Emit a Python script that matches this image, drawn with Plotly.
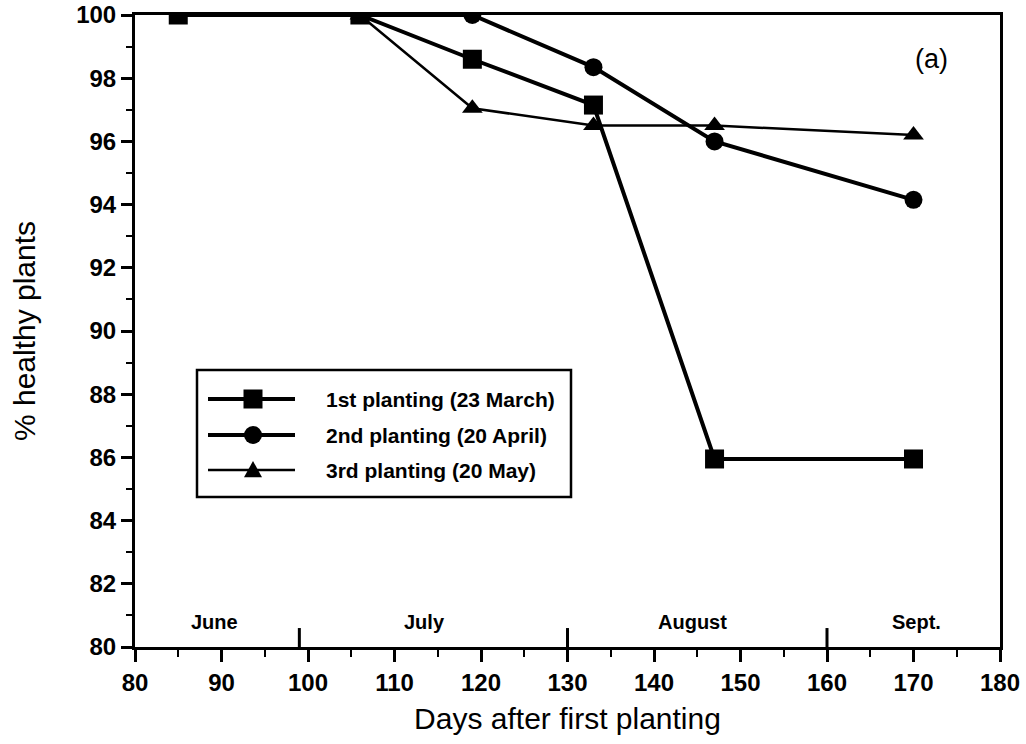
import plotly.graph_objects as go

# Percentage of healthy plants by days after first planting
days_1st = [85, 106, 119, 133, 147, 170]
healthy_1st = [100, 100, 98.6, 97.15, 85.95, 85.95]

days_2nd = [106, 119, 133, 147, 170]
healthy_2nd = [100, 100, 98.35, 96.0, 94.15]

days_3rd = [106, 119, 133, 147, 170]
healthy_3rd = [100, 97.05, 96.5, 96.5, 96.2]

series_names = ["1st planting (23 March)", "2nd planting (20 April)", "3rd planting (20 May)"]

# Month labels along the bottom of the plot and the month boundaries
month_labels = ["June", "July", "August", "Sept."]
month_label_days = [89.2, 113.5, 144.5, 170.4]
month_boundaries = [99, 130, 160]

x_range = [80, 180]
y_range = [80, 100]

FONT = "Liberation Sans, Arial, sans-serif"

# plot area in pixels
W, H = 1026, 744
ML, MR, MT, MB = 135, 26, 15, 97
PW, PH = W - ML - MR, H - MT - MB


def px_x(p):
    return (p - ML) / PW


def px_y(p):
    return (H - MB - p) / PH


series = [
    (days_3rd, healthy_3rd, series_names[2], 2.5, "triangle-up", 18),
    (days_2nd, healthy_2nd, series_names[1], 4, "circle", 18),
    (days_1st, healthy_1st, series_names[0], 4, "square", 19),
]

fig = go.Figure()
for xs, ys, name, lw, sym, ms in series:
    fig.add_trace(go.Scatter(
        x=xs, y=ys, name=name, mode="lines+markers",
        line=dict(color="black", width=lw),
        marker=dict(symbol=sym, size=ms, color="black"),
        showlegend=False,
    ))

shapes = []
annotations = []

# Month boundary ticks rising from the x axis
for d in month_boundaries:
    shapes.append(dict(type="line", xref="x", yref="paper", x0=d, x1=d, y0=0, y1=0.03,
                       line=dict(color="black", width=3)))

for lab, d in zip(month_labels, month_label_days):
    annotations.append(dict(x=d, y=80.8, text=f"<b>{lab}</b>", showarrow=False, xref="x", yref="y",
                            font=dict(family=FONT, size=20, color="black")))

annotations.append(dict(x=172.1, y=98.6, text="(a)", showarrow=False, xref="x", yref="y",
                        font=dict(family=FONT, size=27, color="black")))

# Boxed key drawn in the lower left of the plot
box_l, box_r, box_t, box_b = 197, 571, 370, 497
shapes.append(dict(type="rect", xref="paper", yref="paper",
                   x0=px_x(box_l), x1=px_x(box_r), y0=px_y(box_b), y1=px_y(box_t),
                   line=dict(color="black", width=2.5), fillcolor="white", layer="above"))
row_y = [399, 435, 470]
key_order = [series[2], series[1], series[0]]
for ry, (xs, ys, name, lw, sym, ms) in zip(row_y, key_order):
    shapes.append(dict(type="line", xref="paper", yref="paper",
                       x0=px_x(208), x1=px_x(295), y0=px_y(ry), y1=px_y(ry),
                       line=dict(color="black", width=lw), layer="above"))
    cx = 253
    h = ms / 2
    if sym == "square":
        shapes.append(dict(type="rect", xref="paper", yref="paper",
                           x0=px_x(cx - h), x1=px_x(cx + h), y0=px_y(ry + h), y1=px_y(ry - h),
                           line=dict(width=0), fillcolor="black", layer="above"))
    elif sym == "circle":
        shapes.append(dict(type="circle", xref="paper", yref="paper",
                           x0=px_x(cx - h), x1=px_x(cx + h), y0=px_y(ry + h), y1=px_y(ry - h),
                           line=dict(width=0), fillcolor="black", layer="above"))
    else:
        path = (f"M{px_x(cx - h)},{px_y(ry + h * 0.8)} "
                f"L{px_x(cx + h)},{px_y(ry + h * 0.8)} "
                f"L{px_x(cx)},{px_y(ry - h * 1.0)} Z")
        shapes.append(dict(type="path", xref="paper", yref="paper", path=path,
                           line=dict(width=0), fillcolor="black", layer="above"))
    annotations.append(dict(x=px_x(324), y=px_y(ry), xref="paper", yref="paper",
                            text=f"<b>{name}</b>", showarrow=False,
                            xanchor="left", yanchor="middle",
                            font=dict(family=FONT, size=21, color="black")))

fig.update_layout(
    width=W, height=H,
    margin=dict(l=ML, r=MR, t=MT, b=MB),
    paper_bgcolor="white", plot_bgcolor="white",
    showlegend=False,
    shapes=shapes, annotations=annotations,
)

fig.update_xaxes(
    range=x_range, tickmode="linear", tick0=80, dtick=10, automargin=False,
    showline=True, linecolor="black", linewidth=3, mirror=True,
    ticks="outside", ticklen=12, tickwidth=2.5, tickcolor="black",
    minor=dict(ticks="outside", ticklen=7, tickwidth=2, tickcolor="black", dtick=5),
    showgrid=False, zeroline=False,
    tickfont=dict(family=FONT, size=24, color="black", weight="bold"),
    title=dict(text="Days after first planting", standoff=14,
               font=dict(family=FONT, size=30, color="black")),
)
fig.update_yaxes(
    range=y_range, tickmode="linear", tick0=80, dtick=2, automargin=False,
    showline=True, linecolor="black", linewidth=3, mirror=True,
    ticks="outside", ticklen=11, tickwidth=2.5, tickcolor="black",
    minor=dict(ticks="outside", ticklen=6, tickwidth=2, tickcolor="black", dtick=1),
    showgrid=False, zeroline=False,
    tickfont=dict(family=FONT, size=24, color="black", weight="bold"),
    title=dict(text="% healthy plants", standoff=32,
               font=dict(family=FONT, size=30, color="black")),
)

fig.write_html("out.html")
